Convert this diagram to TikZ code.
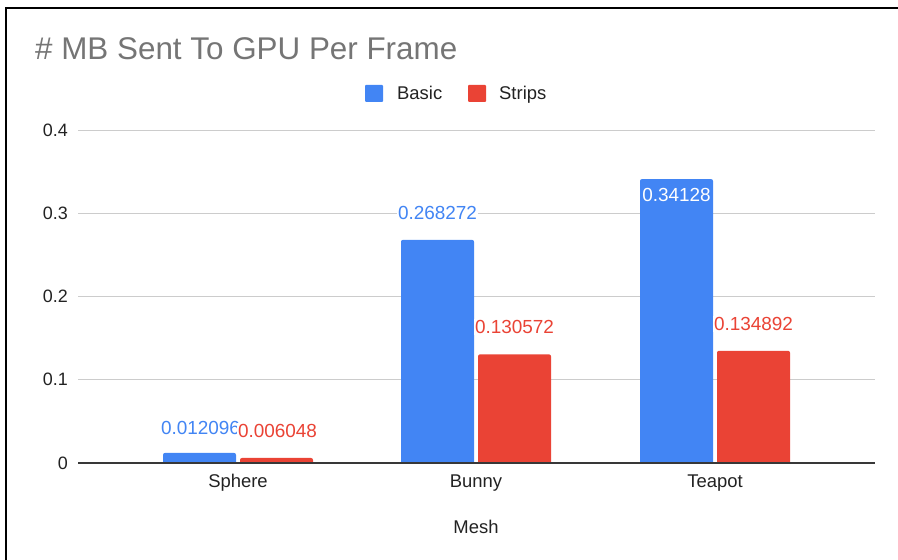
\documentclass[tikz,border=0pt]{standalone}
\usepackage{fontspec}
\setmainfont{Liberation Sans}
\usepackage{tikz}
\definecolor{basicColor}{HTML}{4285F4}
\definecolor{stripsColor}{HTML}{EA4335}
\definecolor{gridColor}{HTML}{CCCCCC}
\definecolor{titleColor}{HTML}{757575}
\definecolor{textColor}{HTML}{222222}

\begin{document}
\begin{tikzpicture}[x=1bp, y=-1bp,
    tick/.style={anchor=east, text=textColor, inner sep=0pt, font=\fontsize{18}{20}\selectfont},
    axisLabel/.style={anchor=base, text=textColor, inner sep=0pt, font=\fontsize{18.5}{20}\selectfont},
    valueLabel/.style={fill=white, inner sep=1bp, font=\fontsize{19}{21}\selectfont}]
    \useasboundingbox (0,0) rectangle (898,560);
    \draw[line width=2.5bp] (6,560) -- (6,8) -- (898,8);
    \node[anchor=base west, text=titleColor, inner sep=0pt, font=\fontsize{31.5}{33}\selectfont]
        (title) at (35,60) {\# MB Sent To GPU Per Frame};
    % legend
    \fill[basicColor, rounded corners=1] (365,85) rectangle (383,102);
    \node[axisLabel, anchor=base west] (legBasic) at (397,100) {Basic};
    \fill[stripsColor, rounded corners=1] (468,85) rectangle (486,102);
    \node[axisLabel, anchor=base west] (legStrips) at (499,100) {Strips};
    % grid
    \foreach \v in {1,2,3,4} {
        \draw[gridColor, line width=1.2bp] (78,{463-83.2*\v}) -- (875,{463-83.2*\v});
        \node[tick] (tick\v) at (68,{463-83.2*\v}) {0.\v};
    }
    \node[tick] (tick0) at (68,463) {0};
    % bars
    \foreach \name/\cx/\b/\s in {Sphere/238/0.012096/0.006048, Bunny/476/0.268272/0.130572,
                                Teapot/715/0.34128/0.134892} {
        \fill[basicColor] (\cx-75,463) [rounded corners=2] -- (\cx-75,{463-832*\b})
            -- (\cx-2,{463-832*\b}) [sharp corners] -- (\cx-2,463) -- cycle;
        \fill[stripsColor] (\cx+2,463) [rounded corners=2] -- (\cx+2,{463-832*\s})
            -- (\cx+75,{463-832*\s}) [sharp corners] -- (\cx+75,463) -- cycle;
        \node[axisLabel] (\name) at (\cx,487) {\name};
    }
    \draw[textColor!90, line width=1.3bp] (78,463) -- (875,463);
    % value labels
    \node[valueLabel, text=basicColor] (sphereBasic) at (200.5,428) {0.012096};
    \node[valueLabel, text=stripsColor] (sphereStrips) at (277.5,431) {0.006048};
    \node[valueLabel, text=basicColor] (bunnyBasic) at (437.5,213) {0.268272};
    \node[valueLabel, text=stripsColor] (bunnyStrips) at (514.5,327) {0.130572};
    \node[valueLabel, fill=none, text=white] (teapotBasic) at (676.5,195) {0.34128};
    \node[valueLabel, text=stripsColor] (teapotStrips) at (753.5,324) {0.134892};
    \node[axisLabel] (mesh) at (476,533) {Mesh};
\end{tikzpicture}
\end{document}
